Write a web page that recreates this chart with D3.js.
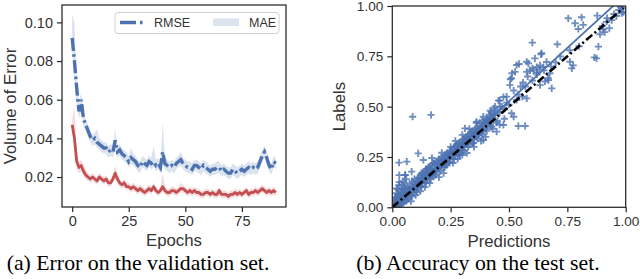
<!DOCTYPE html>
<html>
  <head>
    <script type="text/javascript" src="https://cdn.jsdelivr.net/npm/d3@7"></script>
    <style>
      body { margin: 0; background: white; }
      .tick text { font-family: "Liberation Sans", Arial, sans-serif; fill: #333; }
      .axlabel { font-family: "Liberation Sans", Arial, sans-serif; fill: #333; }
      .caption { font-family: "Liberation Serif", "Times New Roman", serif; fill: #000; }
    </style>
  </head>
  <body>
  <script type='text/javascript'>

    // ---- left panel: validation error per epoch ----
    var rmse = [0.092,0.080,0.066,0.054,0.060,0.050,0.047,0.044,0.041,0.039,
                0.040,0.038,0.037,0.036,0.035,0.035,0.033,0.034,0.033,0.039,
                0.033,0.034,0.032,0.031,0.030,0.028,0.030,0.029,0.028,0.026,
                0.025,0.028,0.027,0.026,0.028,0.027,0.028,0.026,0.027,0.025,
                0.033,0.027,0.026,0.025,0.026,0.025,0.027,0.028,0.029,0.027,
                0.026,0.025,0.025,0.024,0.026,0.026,0.025,0.024,0.026,0.025,
                0.024,0.023,0.024,0.024,0.025,0.025,0.023,0.024,0.023,0.022,
                0.022,0.024,0.023,0.022,0.023,0.024,0.023,0.024,0.025,0.024,
                0.025,0.024,0.025,0.028,0.031,0.033,0.030,0.026,0.024,0.028,
                0.027];
    var rmseHi = [0.104,0.100,0.072,0.058,0.064,0.054,0.050,0.047,0.044,0.042,
                0.043,0.045,0.040,0.039,0.038,0.038,0.036,0.037,0.036,0.045,
                0.036,0.037,0.035,0.034,0.033,0.031,0.035,0.032,0.031,0.029,
                0.028,0.031,0.030,0.029,0.031,0.030,0.036,0.029,0.030,0.028,
                0.048,0.030,0.029,0.028,0.029,0.028,0.030,0.031,0.033,0.030,
                0.029,0.028,0.028,0.027,0.029,0.029,0.028,0.027,0.029,0.028,
                0.027,0.026,0.027,0.027,0.028,0.028,0.026,0.027,0.026,0.025,
                0.025,0.027,0.026,0.025,0.026,0.027,0.026,0.027,0.028,0.027,
                0.028,0.027,0.028,0.031,0.034,0.036,0.033,0.029,0.027,0.031,
                0.030];
    var rmseLo = [0.084,0.070,0.058,0.050,0.054,0.046,0.044,0.041,0.038,0.036,
                0.037,0.035,0.034,0.033,0.032,0.032,0.030,0.031,0.030,0.034,
                0.030,0.031,0.029,0.028,0.027,0.025,0.027,0.026,0.025,0.023,
                0.022,0.025,0.024,0.023,0.025,0.024,0.025,0.023,0.024,0.022,
                0.027,0.024,0.023,0.022,0.023,0.022,0.024,0.025,0.026,0.024,
                0.023,0.022,0.022,0.021,0.023,0.023,0.022,0.021,0.023,0.022,
                0.021,0.020,0.021,0.021,0.022,0.022,0.020,0.021,0.020,0.019,
                0.019,0.021,0.020,0.019,0.020,0.021,0.020,0.021,0.022,0.021,
                0.022,0.021,0.022,0.025,0.028,0.030,0.027,0.023,0.021,0.025,
                0.024];
    var mae = [0.047,0.040,0.028,0.025,0.026,0.023,0.021,0.020,0.019,0.020,
               0.019,0.018,0.020,0.019,0.018,0.019,0.017,0.017,0.019,0.022,
               0.019,0.017,0.016,0.017,0.015,0.015,0.014,0.015,0.014,0.013,
               0.014,0.013,0.012,0.013,0.014,0.013,0.015,0.013,0.012,0.013,
               0.015,0.013,0.012,0.012,0.013,0.013,0.012,0.013,0.014,0.014,
               0.013,0.012,0.013,0.012,0.013,0.012,0.012,0.011,0.011,0.012,
               0.012,0.011,0.012,0.011,0.011,0.013,0.011,0.011,0.011,0.010,
               0.011,0.011,0.012,0.011,0.012,0.011,0.012,0.013,0.011,0.012,
               0.012,0.013,0.012,0.013,0.014,0.013,0.012,0.013,0.012,0.013,
               0.012];
    var maeHi = [0.050,0.056,0.034,0.028,0.029,0.026,0.024,0.022,0.021,0.022,
               0.021,0.020,0.022,0.021,0.020,0.021,0.019,0.019,0.021,0.026,
               0.021,0.019,0.018,0.019,0.017,0.017,0.016,0.017,0.016,0.015,
               0.016,0.015,0.014,0.015,0.016,0.015,0.017,0.015,0.014,0.015,
               0.022,0.015,0.014,0.014,0.015,0.015,0.014,0.015,0.017,0.016,
               0.015,0.014,0.015,0.014,0.015,0.014,0.014,0.013,0.013,0.014,
               0.014,0.013,0.014,0.013,0.013,0.015,0.013,0.013,0.013,0.012,
               0.013,0.013,0.014,0.013,0.014,0.013,0.014,0.015,0.013,0.014,
               0.014,0.015,0.014,0.015,0.016,0.015,0.014,0.015,0.014,0.015,
               0.014];
    var maeLo = [0.044,0.036,0.024,0.022,0.023,0.021,0.019,0.018,0.017,0.018,
               0.017,0.016,0.018,0.017,0.016,0.017,0.015,0.015,0.017,0.019,
               0.017,0.015,0.014,0.015,0.013,0.013,0.012,0.013,0.012,0.011,
               0.012,0.011,0.010,0.011,0.012,0.011,0.013,0.011,0.010,0.011,
               0.013,0.011,0.010,0.010,0.011,0.011,0.010,0.011,0.012,0.012,
               0.011,0.010,0.011,0.010,0.011,0.010,0.010,0.009,0.009,0.010,
               0.010,0.009,0.010,0.009,0.009,0.011,0.009,0.009,0.009,0.008,
               0.009,0.009,0.010,0.009,0.010,0.009,0.010,0.011,0.009,0.010,
               0.010,0.011,0.010,0.011,0.012,0.011,0.010,0.011,0.010,0.011,
               0.010];
    var epochs = d3.range(rmse.length);
    var epochTicks = [0, 25, 50, 75];
    var errorTicks = [0.02, 0.04, 0.06, 0.08, 0.10];

    // ---- right panel: predictions vs labels ----
    var testPoints = [
      [0.005,0.01],[0.01,0.005],[0.01,0.02],[0.015,0.03],[0.02,0.015],[0.02,0.04],[0.025,0.02],[0.025,0.05],
      [0.03,0.03],[0.03,0.06],[0.035,0.025],[0.035,0.045],[0.04,0.07],[0.04,0.035],[0.045,0.05],[0.045,0.09],
      [0.05,0.04],[0.05,0.065],[0.008,0.035],[0.012,0.05],[0.018,0.07],[0.022,0.09],[0.028,0.11],[0.03,0.125],
      [0.04,0.11],[0.05,0.1],[0.055,0.12],[0.06,0.14],[0.045,0.13],[0.03,0.16],[0.055,0.16],[0.029,0.222],
      [0.062,0.227],[0.019,0.094],[0.015,0.005],[0.03,0.01],[0.04,0.02],[0.05,0.025],[0.06,0.03],[0.07,0.045],
      [0.055,0.055],[0.06,0.075],[0.065,0.06],[0.07,0.09],[0.075,0.07],[0.08,0.085],[0.08,0.06],[0.085,0.1],
      [0.09,0.075],[0.09,0.12],[0.095,0.09],[0.1,0.11],[0.1,0.085],[0.105,0.13],[0.11,0.1],[0.11,0.145],
      [0.115,0.12],[0.12,0.105],[0.12,0.16],[0.125,0.13],[0.13,0.12],[0.13,0.17],[0.135,0.145],[0.14,0.13],
      [0.14,0.18],[0.145,0.155],[0.15,0.14],[0.15,0.19],[0.155,0.16],[0.16,0.15],[0.16,0.2],[0.165,0.175],
      [0.17,0.16],[0.17,0.21],[0.175,0.18],[0.18,0.17],[0.18,0.22],[0.185,0.19],[0.19,0.18],[0.19,0.23],
      [0.195,0.2],[0.2,0.19],[0.2,0.24],[0.21,0.21],[0.21,0.25],[0.22,0.2],[0.22,0.235],[0.23,0.22],
      [0.23,0.26],[0.24,0.245],[0.24,0.225],[0.25,0.27],[0.25,0.24],[0.26,0.26],[0.26,0.29],[0.27,0.255],
      [0.27,0.3],[0.28,0.28],[0.28,0.31],[0.29,0.27],[0.29,0.32],[0.3,0.3],[0.3,0.285],[0.31,0.33],
      [0.31,0.3],[0.32,0.32],[0.32,0.35],[0.33,0.31],[0.33,0.345],[0.34,0.33],[0.34,0.37],[0.35,0.34],
      [0.35,0.36],[0.36,0.38],[0.36,0.35],[0.37,0.39],[0.37,0.36],[0.38,0.4],[0.38,0.37],[0.39,0.41],
      [0.39,0.38],[0.4,0.42],[0.4,0.39],[0.41,0.43],[0.42,0.41],[0.42,0.45],[0.43,0.44],[0.44,0.46],
      [0.45,0.43],[0.45,0.48],[0.46,0.47],[0.47,0.5],[0.48,0.49],[0.49,0.52],[0.5,0.51],
      [0.08,0.03],[0.1,0.06],[0.12,0.08],[0.14,0.1],[0.16,0.12],[0.2,0.15],[0.22,0.17],[0.26,0.22],
      [0.28,0.24],[0.3,0.26],[0.32,0.27],[0.35,0.3],[0.38,0.33],[0.4,0.35],[0.43,0.39],[0.46,0.41],
      [0.48,0.44],[0.476,0.409],[0.447,0.376],[0.39,0.334],[0.347,0.318],[0.304,0.334],[0.54,0.404],[0.569,0.404],
      [0.511,0.467],[0.52,0.45],
      [0.111,0.268],[0.133,0.235],[0.212,0.271],[0.17,0.245],[0.083,0.177],[0.055,0.16],[0.148,0.177],[0.176,0.152],
      [0.29,0.26],[0.247,0.268],[0.233,0.21],[0.311,0.392],[0.361,0.425],[0.404,0.433],[0.433,0.458],[0.461,0.5],
      [0.087,0.45],[0.166,0.459],[0.25,0.3],[0.27,0.33],[0.3,0.36],[0.33,0.39],[0.36,0.42],[0.39,0.45],
      [0.42,0.48],[0.44,0.5],[0.46,0.53],[0.476,0.548],[0.455,0.53],[0.49,0.55],[0.533,0.533],[0.576,0.541],
      [0.557,0.55],
      [0.506,0.636],[0.504,0.607],[0.511,0.641],[0.513,0.666],[0.526,0.673],[0.533,0.707],[0.543,0.712],[0.576,0.723],
      [0.583,0.715],[0.576,0.673],[0.59,0.68],[0.6,0.69],[0.605,0.68],[0.611,0.74],[0.619,0.697],[0.62,0.67],
      [0.63,0.685],[0.633,0.705],[0.64,0.765],[0.647,0.697],[0.637,0.76],[0.661,0.722],[0.675,0.666],[0.633,0.607],
      [0.669,0.632],[0.654,0.625],[0.668,0.641],[0.683,0.591],[0.6,0.818],[0.707,0.81],[0.55,0.6],[0.56,0.62],
      [0.58,0.65],[0.6,0.63],[0.62,0.66],[0.65,0.68],[0.68,0.7],[0.7,0.72],[0.52,0.58],[0.54,0.56],[0.57,0.6],
      [0.754,0.939],[0.811,0.944],[0.783,0.914],[0.818,0.906],[0.797,0.886],[0.878,0.952],[0.918,0.922],[0.983,0.964],
      [0.866,0.745],[0.883,0.798],[0.761,0.723],[0.769,0.69],[0.775,0.705],[0.904,0.884],[0.93,0.89],[0.875,0.74],
      [0.9,0.9],[0.92,0.94],[0.94,0.93],[0.95,0.96],[0.96,0.95],[0.97,0.98],[0.99,0.97],[0.985,0.99],
      [0.91,0.87],[0.89,0.86],[0.8,0.8],[0.76,0.78],[0.72,0.75],[0.977,0.997],
      [0.012,0.012],[0.022,0.028],[0.032,0.038],[0.042,0.048],[0.052,0.058],[0.062,0.064],[0.072,0.078],[0.082,0.088],
      [0.092,0.096],[0.102,0.1],[0.112,0.118],[0.122,0.124],[0.132,0.138],[0.142,0.144],[0.152,0.158],[0.162,0.166],
      [0.172,0.174],[0.182,0.188],[0.192,0.194],[0.202,0.208],[0.212,0.218],[0.222,0.224],[0.232,0.238],[0.242,0.248],
      [0.252,0.254],[0.262,0.268],[0.272,0.274],[0.282,0.29],[0.292,0.296],[0.302,0.31],[0.312,0.316],[0.322,0.33],
      [0.332,0.336],[0.342,0.35],[0.352,0.356],[0.362,0.37],[0.372,0.376],[0.382,0.39],[0.392,0.396],[0.402,0.41],
      [0.412,0.418],[0.422,0.43],
      [0.015,0.045],[0.025,0.065],[0.035,0.08],[0.045,0.07],[0.055,0.09],[0.065,0.1],[0.075,0.11],[0.085,0.13],
      [0.095,0.14],[0.105,0.115],[0.115,0.15],[0.125,0.17],[0.135,0.16],[0.145,0.19],[0.155,0.2],[0.165,0.19],
      [0.175,0.22],[0.185,0.21],[0.195,0.22],[0.205,0.23],[0.215,0.24],[0.225,0.26],[0.235,0.27],[0.245,0.28],
      [0.255,0.28],[0.265,0.3],[0.275,0.31],[0.285,0.32],[0.295,0.31],[0.305,0.34],[0.315,0.35],[0.325,0.36],
      [0.335,0.37],[0.345,0.38],[0.355,0.39],[0.365,0.4],[0.375,0.42],[0.385,0.43],[0.395,0.42],[0.405,0.44],
      [0.415,0.46],[0.425,0.47],[0.435,0.49],
      [0.025,0.005],[0.045,0.02],[0.065,0.04],[0.085,0.055],[0.105,0.075],[0.125,0.1],[0.145,0.12],[0.165,0.14],
      [0.185,0.16],[0.205,0.18],[0.225,0.2],[0.245,0.22],[0.265,0.24],[0.285,0.26],[0.305,0.28],[0.325,0.3],
      [0.345,0.32],[0.365,0.34],[0.385,0.36],[0.405,0.38],[0.425,0.4],[0.445,0.42]
    ];
    var fitLine = [[0, -0.003], [1.0, 1.057]];
    var idealLine = [[0, 0], [0.99, 0.99]];
    var unitTicks = [0, 0.25, 0.5, 0.75, 1.0];

    var BLUE = "#4c72b0";
    var RED = "#c44e52";
    var INK = "#262626";

    var svg = d3.select("body").append("svg")
        .attr("width", 640)
        .attr("height", 279);

    svg.append("rect").attr("width", 640).attr("height", 279).attr("fill", "white");

    // ================= LEFT =================
    var L = {left: 62, right: 286, top: 5, bottom: 207};

    var x1 = d3.scaleLinear().domain([-4.5, 94.5]).range([L.left, L.right]);
    var y1 = d3.scaleLinear().domain([0.0045, 0.109]).range([L.bottom, L.top]);

    svg.append("defs").append("clipPath").attr("id", "clipL")
      .append("rect").attr("x", L.left).attr("y", L.top)
      .attr("width", L.right - L.left).attr("height", L.bottom - L.top);

    var gl = svg.append("g").attr("clip-path", "url(#clipL)");

    var band = function(hi, lo){
      return d3.area()
        .x(function(d){ return x1(d); })
        .y0(function(d){ return y1(lo[d]); })
        .y1(function(d){ return y1(hi[d]); });
    };
    var line = function(vals){
      return d3.line()
        .x(function(d){ return x1(d); })
        .y(function(d){ return y1(vals[d]); });
    };

    gl.append("path").datum(epochs).attr("d", band(maeHi, maeLo))
      .attr("fill", RED).attr("fill-opacity", 0.2);
    gl.append("path").datum(epochs).attr("d", band(rmseHi, rmseLo))
      .attr("fill", BLUE).attr("fill-opacity", 0.2);

    gl.append("path").datum(epochs).attr("d", line(mae))
      .attr("fill", "none").attr("stroke", RED).attr("stroke-width", 2.8)
      .attr("stroke-linejoin", "round");
    gl.append("path").datum(epochs).attr("d", line(rmse))
      .attr("fill", "none").attr("stroke", BLUE).attr("stroke-width", 3.4)
      .attr("stroke-dasharray", "13,3.5,2.5,3.5");

    // axes
    var axL = svg.append("g").attr("transform", "translate(" + L.left + ",0)")
      .call(d3.axisLeft(y1).tickValues(errorTicks).tickFormat(d3.format(".2f")).tickSize(5).tickPadding(4));
    var axB = svg.append("g").attr("transform", "translate(0," + L.bottom + ")")
      .call(d3.axisBottom(x1).tickValues(epochTicks).tickSize(5).tickPadding(4));
    [axL, axB].forEach(function(a){
      a.select(".domain").remove();
      a.selectAll(".tick line").attr("stroke", INK).attr("stroke-width", 1.2);
      a.selectAll(".tick text").style("font-size", "14.5px");
    });

    svg.append("rect").attr("x", L.left).attr("y", L.top)
      .attr("width", L.right - L.left).attr("height", L.bottom - L.top)
      .attr("fill", "none").attr("stroke", INK).attr("stroke-width", 1.25);

    // legend
    var lg = svg.append("g");
    lg.append("rect").attr("x", 115).attr("y", 12.5).attr("width", 164).attr("height", 21)
      .attr("rx", 3).attr("fill", "white").attr("fill-opacity", 0.85)
      .attr("stroke", "#d0d0d0").attr("stroke-width", 1);
    lg.append("line").attr("x1", 120).attr("x2", 146).attr("y1", 22.5).attr("y2", 22.5)
      .attr("stroke", BLUE).attr("stroke-width", 3.4).attr("stroke-dasharray", "16,4,2.5,4");
    lg.append("text").attr("x", 154).attr("y", 27.3).text("RMSE")
      .attr("class", "axlabel").style("font-size", "12.5px");
    lg.append("rect").attr("x", 213).attr("y", 18.5).attr("width", 26).attr("height", 7.5)
      .attr("fill", BLUE).attr("fill-opacity", 0.2);
    lg.append("text").attr("x", 249).attr("y", 27.3).text("MAE")
      .attr("class", "axlabel").style("font-size", "12.5px");

    svg.append("text").attr("class", "axlabel")
      .attr("x", (L.left + L.right) / 2).attr("y", 246)
      .attr("text-anchor", "middle").style("font-size", "16.8px").text("Epochs");
    svg.append("text").attr("class", "axlabel")
      .attr("transform", "translate(16," + ((L.top + L.bottom) / 2) + ") rotate(-90)")
      .attr("text-anchor", "middle").style("font-size", "16.8px").text("Volume of Error");

    svg.append("text").attr("class", "caption")
      .attr("x", 138).attr("y", 269.5).attr("text-anchor", "middle")
      .style("font-size", "21.8px").text("(a) Error on the validation set.");

    // ================= RIGHT =================
    var R = {left: 392.3, right: 625.7, top: 6, bottom: 207.3};
    var x2 = d3.scaleLinear().domain([0, 1]).range([R.left, R.right]);
    var y2 = d3.scaleLinear().domain([0, 1]).range([R.bottom, R.top]);

    svg.select("defs").append("clipPath").attr("id", "clipR")
      .append("rect").attr("x", R.left).attr("y", R.top)
      .attr("width", R.right - R.left).attr("height", R.bottom - R.top);

    var gr = svg.append("g").attr("clip-path", "url(#clipR)");

    gr.selectAll("path.pt").data(testPoints).enter().append("path")
      .attr("class", "pt")
      .attr("transform", function(d){ return "translate(" + x2(d[0]) + "," + y2(d[1]) + ")"; })
      .attr("d", "M-3.6,0H3.6M0,-3.6V3.6")
      .attr("stroke", BLUE).attr("stroke-width", 1.9).attr("stroke-opacity", 0.8)
      .attr("fill", "none");

    var pline = d3.line().x(function(d){ return x2(d[0]); }).y(function(d){ return y2(d[1]); });
    gr.append("path").datum(fitLine).attr("d", pline)
      .attr("stroke", BLUE).attr("stroke-width", 1.8).attr("fill", "none");
    gr.append("path").datum(idealLine).attr("d", pline)
      .attr("stroke", "black").attr("stroke-width", 2.6).attr("fill", "none")
      .attr("stroke-dasharray", "8,3,2,3");

    var axL2 = svg.append("g").attr("transform", "translate(" + R.left + ",0)")
      .call(d3.axisLeft(y2).tickValues(unitTicks).tickFormat(d3.format(".2f")).tickSize(5).tickPadding(4));
    var axB2 = svg.append("g").attr("transform", "translate(0," + R.bottom + ")")
      .call(d3.axisBottom(x2).tickValues(unitTicks).tickFormat(d3.format(".2f")).tickSize(5).tickPadding(4));
    [axL2, axB2].forEach(function(a){
      a.select(".domain").remove();
      a.selectAll(".tick line").attr("stroke", INK).attr("stroke-width", 1.2);
      a.selectAll(".tick text").style("font-size", "13.6px");
    });

    svg.append("rect").attr("x", R.left).attr("y", R.top)
      .attr("width", R.right - R.left).attr("height", R.bottom - R.top)
      .attr("fill", "none").attr("stroke", INK).attr("stroke-width", 1.25);

    svg.append("text").attr("class", "axlabel")
      .attr("x", (R.left + R.right) / 2).attr("y", 246.5)
      .attr("text-anchor", "middle").style("font-size", "16.8px").text("Predictions");
    svg.append("text").attr("class", "axlabel")
      .attr("transform", "translate(345," + ((R.top + R.bottom) / 2) + ") rotate(-90)")
      .attr("text-anchor", "middle").style("font-size", "16.8px").text("Labels");

    svg.append("text").attr("class", "caption")
      .attr("x", 478).attr("y", 270).attr("text-anchor", "middle")
      .style("font-size", "21.8px").text("(b) Accuracy on the test set.");

  </script>
  </body>
</html>
